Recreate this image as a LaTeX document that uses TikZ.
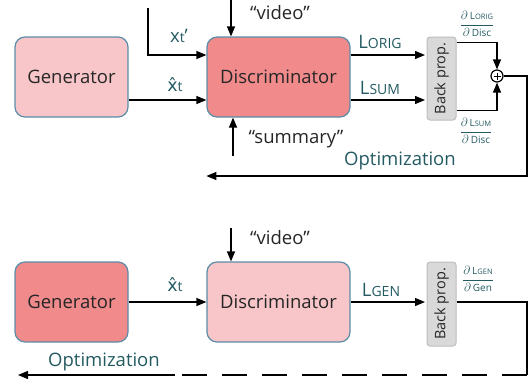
\documentclass[tikz,border=0pt]{standalone}
\usepackage{amsmath}
\usepackage{graphicx}
\usepackage{fontspec}
\setmainfont{Open Sans}
\newfontfamily\dejavu{DejaVu Sans}
\usetikzlibrary{arrows.meta,calc}
\definecolor{lpink}{HTML}{F8C6C8}
\definecolor{dpink}{HTML}{F08A8B}
\definecolor{bordc}{HTML}{5B8DA8}
\definecolor{bpfill}{HTML}{D9D9D9}
\definecolor{bpbord}{HTML}{BDBDBD}
\definecolor{tealc}{HTML}{245A62}
\newcommand{\bigf}{\fontsize{18.5}{20}\selectfont}
\newcommand{\midf}{\fontsize{14}{15}\selectfont}
\newcommand{\xhat}{{\dejavu\fontsize{17.5}{20}\selectfont x̂}}
\newcommand{\dnum}[2]{\text{\fontsize{10}{10}\selectfont #1\fontsize{7.5}{8}\selectfont #2}}
\newcommand{\dden}[1]{\text{\fontsize{10}{10}\selectfont #1}}
\begin{document}
\begin{tikzpicture}[x=1pt,y=-1pt,
  box/.style={draw=bordc,line width=1.2pt,rounded corners=10pt,minimum height=80pt,font=\bigf,text=black!85},
  bpbox/.style={draw=bpbord,fill=bpfill,line width=1pt,rounded corners=3pt,minimum width=29pt,inner sep=0pt,font=\fontsize{14.5}{15}\selectfont,text=black!85},
  arr/.style={line width=1.2pt,-{Triangle[length=10pt,width=8pt]}},
  ln/.style={line width=1.2pt},
  lab/.style={text=tealc,font=\bigf,inner sep=0pt},
  qlab/.style={text=black!85,font=\bigf,inner sep=0pt},
  der/.style={text=tealc,inner sep=0pt,font=\fontsize{12}{13}\selectfont}]
\useasboundingbox (0,0) rectangle (532,388);

% ---------- top: discriminator training ----------
\node[box,fill=lpink,minimum width=113pt] (gen1) at (71.5,77) {Generator};
\node[box,fill=dpink,minimum width=143pt] (dis1) at (278.5,77) {Discriminator};
\node[bpbox,minimum height=83pt] (bp1) at (441.5,78.5) {\rotatebox{90}{Back prop.}};
\node[draw,circle,line width=1.2pt,minimum size=12pt,inner sep=0pt,fill=white] (plus) at (497,76) {};
\draw[line width=0.8pt] ($(plus.center)+(-3.5,0)$) -- ($(plus.center)+(3.5,0)$);
\draw[line width=0.8pt] ($(plus.center)+(0,-3.5)$) -- ($(plus.center)+(0,3.5)$);

\coordinate (xin) at (148,8);
\coordinate (vid1) at (231,0);
\coordinate (sum1) at (233,156);
\coordinate (o1) at ($(dis1.east)+(0,-22)$);
\coordinate (o2) at ($(dis1.east)+(0,23)$);
\coordinate (p1) at ($(bp1.north east)+(0,6)$);
\coordinate (p2) at ($(bp1.south east)+(0,-10)$);
\coordinate (c1) at (527,176);

\draw[arr] (xin) |- ($(dis1.west)+(0,-22)$);
\draw[arr] ($(gen1.east)+(0,23)$) -- ($(dis1.west)+(0,23)$);
\draw[arr] (vid1) -- (vid1 |- dis1.north);
\draw[arr] (sum1) -- (sum1 |- dis1.south);
\draw[arr,shorten >=1.5pt] (o1) -- (o1 -| bp1.west);
\draw[arr,shorten >=1.5pt] (o2) -- (o2 -| bp1.west);
\draw[arr] (p1) -| (plus.north);
\draw[arr] (p2) -| (plus.south);
\draw[arr] (plus.east) -| (c1) -- (c1 -| dis1.west);

\node[lab] (lxp) at (179,36) {x{\midf t}’};
\node[lab] (lxh1) at (175,85) {\xhat{\midf t}};
\node[qlab] (lvid1) at (280,13) {“video”};
\node[qlab] (lsum) at (296,139) {“summary”};
\node[lab] (lorig) at (380,42) {L{\midf ORIG}};
\node[lab] (lsumm) at (380,88) {L{\midf SUM}};
\node[der] (d1) at (477,24) {$\dfrac{\partial\,\dnum{L}{ORIG}}{\partial\,\dden{Disc}}$};
\node[der] (d2) at (476,131) {$\dfrac{\partial\,\dnum{L}{SUM}}{\partial\,\dden{Disc}}$};
\node[lab] (opt1) at (400,161) {Optimization};

% ---------- bottom: generator training ----------
\node[box,fill=dpink,minimum width=113pt] (gen2) at (71.5,302) {Generator};
\node[box,fill=lpink,minimum width=143pt] (dis2) at (278.5,302) {Discriminator};
\node[bpbox,minimum height=84pt] (bp2) at (441.5,304) {\rotatebox{90}{Back prop.}};

\coordinate (vid2) at (231,228);
\coordinate (c2) at (527,375);
\coordinate (c3) at (175,375);
\coordinate (c4) at (18,375);

\draw[arr] (vid2) -- (vid2 |- dis2.north);
\draw[arr] (gen2.east) -- (dis2.west);
\draw[arr,shorten >=1.5pt] (dis2.east) -- (dis2.east -| bp2.west);
\draw[ln] (bp2.east |- dis2.east) -| (c2);
\draw[ln,dash pattern=on 25pt off 15pt] (c2) -- (c3);
\draw[arr] (c3) -- (c4);

\node[lab] (lxh2) at (175,285) {\xhat{\midf t}};
\node[qlab] (lvid2) at (280,238) {“video”};
\node[lab] (lgen) at (381,290) {L{\midf GEN}};
\node[der] (d3) at (478,279) {$\dfrac{\partial\,\dnum{L}{GEN}}{\partial\,\dden{Gen}}$};
\node[lab] (opt2) at (104,362) {Optimization};
\end{tikzpicture}
\end{document}
